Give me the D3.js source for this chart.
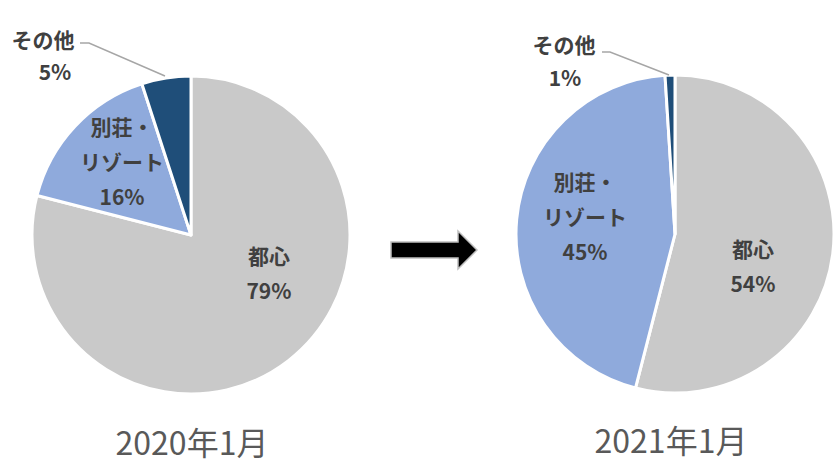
<!DOCTYPE html>
<html><head><meta charset="utf-8">
<script src="https://cdn.jsdelivr.net/npm/d3@7"></script>
<style>body{margin:0;background:#fff}svg{display:block}</style>
</head><body>
<svg id="c" width="840" height="463"></svg>
<script>
const categories = ["都心", "別荘・リゾート", "その他"];
const labelLines = [["都心"], ["別荘・", "リゾート"], ["その他"]];
const values2020 = [79, 16, 5];
const values2021 = [54, 45, 1];
const periods = ["2020年1月", "2021年1月"];
const colors = ["#c9c9c9", "#8faadc", "#1f4e79"];

const svg = d3.select("#c");
const color = d3.scaleOrdinal().domain(categories).range(colors);
const pie = d3.pie().sort(null).value(d => d.v);
const R = 159;
const arc = d3.arc().innerRadius(0).outerRadius(R);

const charts = [
  {cx: 191, cy: 235, vals: values2020, title: periods[0], tx: 192, ty: 455,
   lab: [[78, 22], [-69, -107], null],
   other: {tx: 43, ty: 48, px: 55, py: 80, line: [[80, 43], [89, 43], [165, 76]]}},
  {cx: 675, cy: 234, vals: values2021, title: periods[1], tx: 671, ty: 453,
   lab: [[78, 16], [-90, -51], null],
   other: {tx: 564, ty: 53, px: 565, py: 86, line: [[602, 52], [610, 52], [669, 75]]}}
];

const fs = 21, lh = 35;
const font = "'Noto Sans CJK JP', sans-serif";
charts.forEach(ch => {
  const g = svg.append("g").attr("transform", `translate(${ch.cx},${ch.cy})`);
  const data = pie(categories.map((c, i) => ({c, v: ch.vals[i]})));
  g.selectAll("path").data(data).join("path")
    .attr("d", arc).attr("fill", d => color(d.data.c))
    .attr("stroke", "#fff").attr("stroke-width", 3).attr("stroke-linejoin", "round");
  data.forEach((d, i) => {
    const p = ch.lab[i];
    if (!p) return;
    const lines = labelLines[i].concat([ch.vals[i] + "%"]);
    const t = g.append("text").attr("text-anchor", "middle")
      .attr("font-family", font).attr("font-weight", "bold")
      .attr("font-size", fs).attr("fill", "#404040");
    lines.forEach((s, k) => t.append("tspan").attr("x", p[0]).attr("y", p[1] + k * lh + 7).text(s));
  });
  const o = ch.other;
  svg.append("path").attr("d", d3.line()(o.line)).attr("fill", "none")
    .attr("stroke", "#a6a6a6").attr("stroke-width", 1.5);
  svg.append("text").attr("x", o.tx).attr("y", o.ty).attr("text-anchor", "middle")
    .attr("font-family", font).attr("font-weight", "bold")
    .attr("font-size", fs).attr("fill", "#404040").text(labelLines[2][0]);
  svg.append("text").attr("x", o.px).attr("y", o.py).attr("text-anchor", "middle")
    .attr("font-family", font).attr("font-weight", "bold")
    .attr("font-size", fs).attr("fill", "#404040").text(ch.vals[2] + "%");
  svg.append("text").attr("x", ch.tx).attr("y", ch.ty).attr("text-anchor", "middle")
    .attr("font-family", font)
    .attr("font-size", 32).attr("fill", "#595959").text(ch.title);
});

svg.append("path")
  .attr("d", d3.line()([[391, 242], [458, 242], [458, 231], [477, 250], [458, 269], [458, 258], [391, 258]]) + "Z")
  .attr("fill", "#000").attr("stroke", "#bfbfbf").attr("stroke-width", 1.5);
</script>
</body></html>
